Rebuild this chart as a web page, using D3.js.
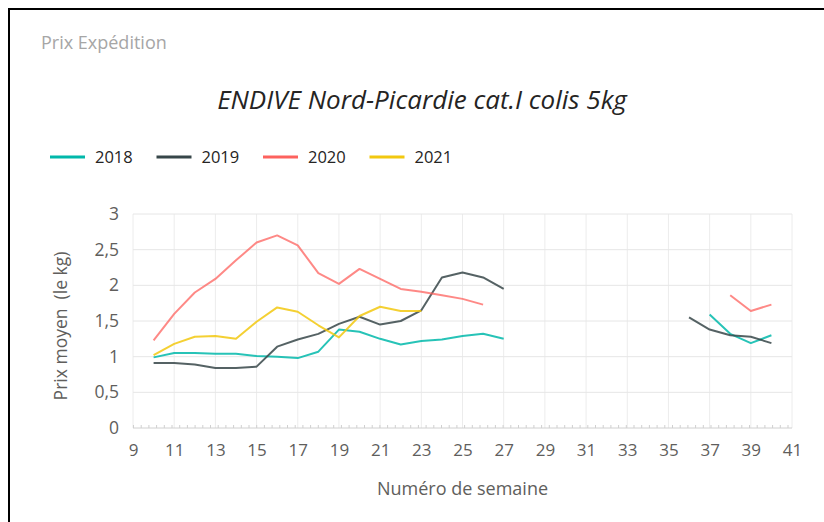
<!DOCTYPE html>
<html>
<head>
<meta charset="utf-8">
<script src="https://cdn.jsdelivr.net/npm/d3@7"></script>
<style>
	body { margin: 0; background: #fff; overflow: hidden; }
	svg { display: block; }
	text { font-family: 'Open Sans', 'Noto Sans', sans-serif; }
</style>
</head>
<body>
<svg id="chart"></svg>
<script>
const w = 824
const h = 522

// weeks on the x axis, values in euro / kg (null = no quotation)
const weeks = [10, 11, 12, 13, 14, 15, 16, 17, 18, 19, 20, 21, 22, 23, 24, 25, 26, 27, 28, 29, 30, 31, 32, 33, 34, 35, 36, 37, 38, 39, 40]
const years = ['2018', '2019', '2020', '2021']
const colors = ['#01B8AA', '#374649', '#FD625E', '#F2C80F']

const s2018 = [0.99, 1.05, 1.05, 1.04, 1.04, 1.01, 1.00, 0.98, 1.07, 1.38, 1.35, 1.25, 1.17, 1.22, 1.24, 1.29, 1.32, 1.25,
	null, null, null, null, null, null, null, null, null, 1.59, 1.32, 1.19, 1.30]
const s2019 = [0.91, 0.91, 0.89, 0.84, 0.84, 0.86, 1.14, 1.24, 1.32, 1.46, 1.56, 1.45, 1.50, 1.65, 2.11, 2.18, 2.11, 1.95,
	null, null, null, null, null, null, null, null, 1.55, 1.38, 1.30, 1.28, 1.19]
const s2020 = [1.23, 1.60, 1.90, 2.09, 2.35, 2.60, 2.70, 2.56, 2.17, 2.02, 2.23, 2.09, 1.95, 1.91, 1.86, 1.81, 1.73, null,
	null, null, null, null, null, null, null, null, null, null, 1.86, 1.64, 1.73]
const s2021 = [1.02, 1.18, 1.28, 1.29, 1.25, 1.49, 1.69, 1.63, 1.44, 1.27, 1.57, 1.70, 1.64, 1.64, null, null, null, null,
	null, null, null, null, null, null, null, null, null, null, null, null, null]

const xTicks = [9, 11, 13, 15, 17, 19, 21, 23, 25, 27, 29, 31, 33, 35, 37, 39, 41]
const yTicks = [0, 0.5, 1, 1.5, 2, 2.5, 3]

const series = [s2018, s2019, s2020, s2021]

const margin = { left: 133, top: 214, right: 32, bottom: 94 }
const innerWidth = w - margin.left - margin.right
const innerHeight = h - margin.top - margin.bottom

const SVG = d3.select('#chart')
	.attr('width', w)
	.attr('height', h)

// frame (top + left only)
SVG.append('path')
	.attr('d', `M9,${h} L9,9 L${w},9`)
	.attr('fill', 'none')
	.attr('stroke', '#000')
	.attr('stroke-width', 2)

SVG.append('text')
	.attr('x', 41)
	.attr('y', 49)
	.attr('font-size', 18)
	.attr('fill', '#a6a6a6')
	.text('Prix Expédition')

SVG.append('text')
	.attr('x', 422)
	.attr('y', 109)
	.attr('text-anchor', 'middle')
	.attr('font-size', 26)
	.attr('font-style', 'italic')
	.attr('fill', '#252423')
	.text('ENDIVE Nord-Picardie cat.I colis 5kg')

// legend
const legend = SVG.append('g').attr('transform', 'translate(50, 157)')
let lx = 0
years.forEach((y, i) => {
	const g = legend.append('g').attr('transform', `translate(${lx}, 0)`)
	g.append('line')
		.attr('x1', 0).attr('x2', 35)
		.attr('y1', 0).attr('y2', 0)
		.attr('stroke', colors[i])
		.attr('stroke-width', 3)
	g.append('text')
		.attr('x', 45)
		.attr('y', 6)
		.attr('font-size', 16.5)
		.attr('fill', '#252423')
		.text(y)
	lx += 106.5
})

let xScale = d3.scaleLinear()
	.domain([9, 41])
	.range([0, innerWidth])

let yScale = d3.scaleLinear()
	.domain([0, 3])
	.range([innerHeight, 0])

const inner = SVG.append('g')
	.attr('transform', `translate(${margin.left}, ${margin.top})`)

// grid
inner.append('g').selectAll('line').data(xTicks).enter().append('line')
	.attr('x1', d => xScale(d)).attr('x2', d => xScale(d))
	.attr('y1', 0).attr('y2', innerHeight)
	.attr('stroke', '#ececec')
	.attr('stroke-width', 1)

inner.append('g').selectAll('line').data(yTicks.filter(d => d > 0)).enter().append('line')
	.attr('x1', 0).attr('x2', innerWidth)
	.attr('y1', d => yScale(d)).attr('y2', d => yScale(d))
	.attr('stroke', '#e6e6e6')
	.attr('stroke-width', 1)

// dotted baseline
inner.append('line')
	.attr('x1', 0).attr('x2', innerWidth)
	.attr('y1', yScale(0)).attr('y2', yScale(0))
	.attr('stroke', '#d0d0d0')
	.attr('stroke-width', 1)
inner.append('line')
	.attr('x1', 0).attr('x2', innerWidth)
	.attr('y1', yScale(0) - 1.5).attr('y2', yScale(0) - 1.5)
	.attr('stroke', '#d0d0d0')
	.attr('stroke-width', 3)
	.attr('stroke-dasharray', '1,6.7')

// axes
const xAxis = inner.append('g')
	.attr('transform', `translate(0, ${innerHeight})`)
	.call(d3.axisBottom(xScale).tickValues(xTicks).tickSize(0).tickPadding(16).tickFormat(d3.format('d')))
xAxis.select('.domain').remove()
xAxis.selectAll('text')
	.attr('font-size', 17)
	.attr('fill', '#605e5c')
	.style('font-family', "'Open Sans', sans-serif")

const yAxis = inner.append('g')
	.call(d3.axisLeft(yScale).tickValues(yTicks).tickSize(0).tickPadding(14).tickFormat(d => String(d).replace('.', ',')))
yAxis.select('.domain').remove()
yAxis.selectAll('text')
	.attr('font-size', 17.5)
	.attr('fill', '#605e5c')
	.style('font-family', "'Open Sans', sans-serif")

SVG.append('text')
	.attr('transform', `translate(67, ${margin.top + innerHeight / 2 + 5}) rotate(-90)`)
	.attr('text-anchor', 'middle')
	.attr('font-size', 17.5)
	.attr('fill', '#605e5c')
	.attr('xml:space', 'preserve')
	.text('Prix moyen  (le kg)')

SVG.append('text')
	.attr('x', margin.left + innerWidth / 2)
	.attr('y', 495)
	.attr('text-anchor', 'middle')
	.attr('font-size', 18)
	.attr('fill', '#605e5c')
	.text('Numéro de semaine')

// lines
const line = d3.line()
	.defined(d => d != null)
	.x((_, i) => xScale(weeks[i]))
	.y(d => yScale(d))

inner.selectAll('.serie').data(series).enter().append('path')
	.attr('class', 'serie')
	.attr('d', d => line(d))
	.attr('fill', 'none')
	.attr('stroke', (_, i) => colors[i])
	.attr('stroke-width', 2)
	.attr('stroke-linejoin', 'round')
	.attr('opacity', (_, i) => i == 2 ? 0.75 : 0.85)
</script>
</body>
</html>
